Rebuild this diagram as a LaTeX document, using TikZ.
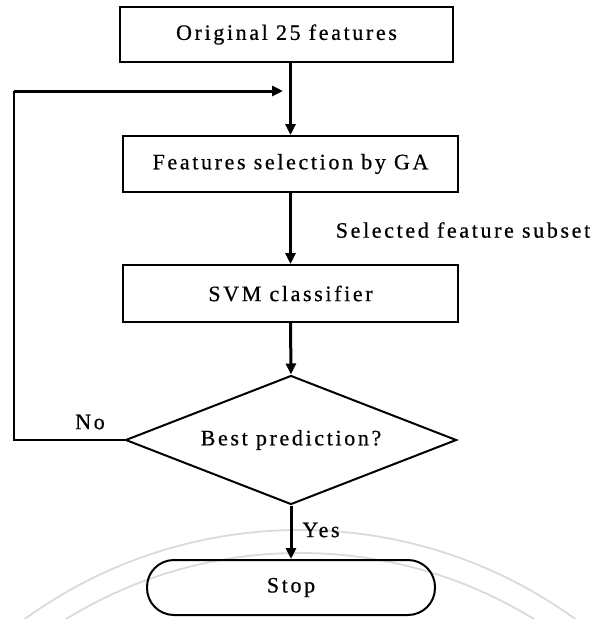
\documentclass[tikz,border=0pt]{standalone}
\usepackage{fontspec}
\setmainfont[LetterSpace=12,FakeBold=0.6]{Liberation Serif}
\usetikzlibrary{arrows.meta,shapes.geometric}
\definecolor{sealgray}{RGB}{218,218,218}
\tikzset{
  stepbox/.style={draw,line width=2pt,minimum width=335pt,minimum height=56pt,inner sep=0pt},
  decision/.style={draw,diamond,line width=2pt,aspect=2.57,minimum width=331pt,minimum height=129pt,inner sep=0pt},
  endbox/.style={draw,line width=2pt,rounded corners=27pt,minimum width=288pt,minimum height=55pt,inner sep=0pt},
  flow/.style={line width=3pt,-{Triangle[length=11pt,width=10pt]}},
  loopline/.style={line width=2.6pt},
}

\begin{document}
\begin{tikzpicture}[x=1pt,y=-1pt,font=\fontsize{22}{26}\selectfont]
\useasboundingbox (0,0) rectangle (602,619);
\begin{scope}
\clip (0,0) rectangle (602,619);
\draw[sealgray,line width=1.8pt] (300,1000) circle[radius=470pt];
\draw[sealgray,line width=1.8pt] (300,1000) circle[radius=447pt];
\end{scope}
\node[stepbox,minimum width=333pt,minimum height=55pt] (orig) at (286.5,34.5) {Original 25 features};
\node[stepbox] (ga) at (290.5,164) {Features selection by GA};
\node[stepbox,minimum height=57pt] (svm) at (290.5,293.5) {SVM classifier};
\node[decision] (best) at (291,440) {Best prediction?};
\node[endbox] (stop) at (291,587.5) {Stop};
\coordinate (join) at (283,91);
\coordinate (corner) at (14,440);
\node (subset) at (463,230) {Selected feature subset};
\node (no) at (90,422) {No};
\node (yes) at (321,530) {Yes};
\draw[flow] (orig.south -| ga.north) -- (ga.north);
\draw[flow] (ga.south) -- (svm.north);
\draw[flow] (svm.south) -- (best.north);
\draw[flow] (best.south) -- (stop.north);
\draw[loopline] (best.west) -- (corner) -- (corner |- join);
\draw[flow] (corner |- join) -- (join);
\end{tikzpicture}
\end{document}
